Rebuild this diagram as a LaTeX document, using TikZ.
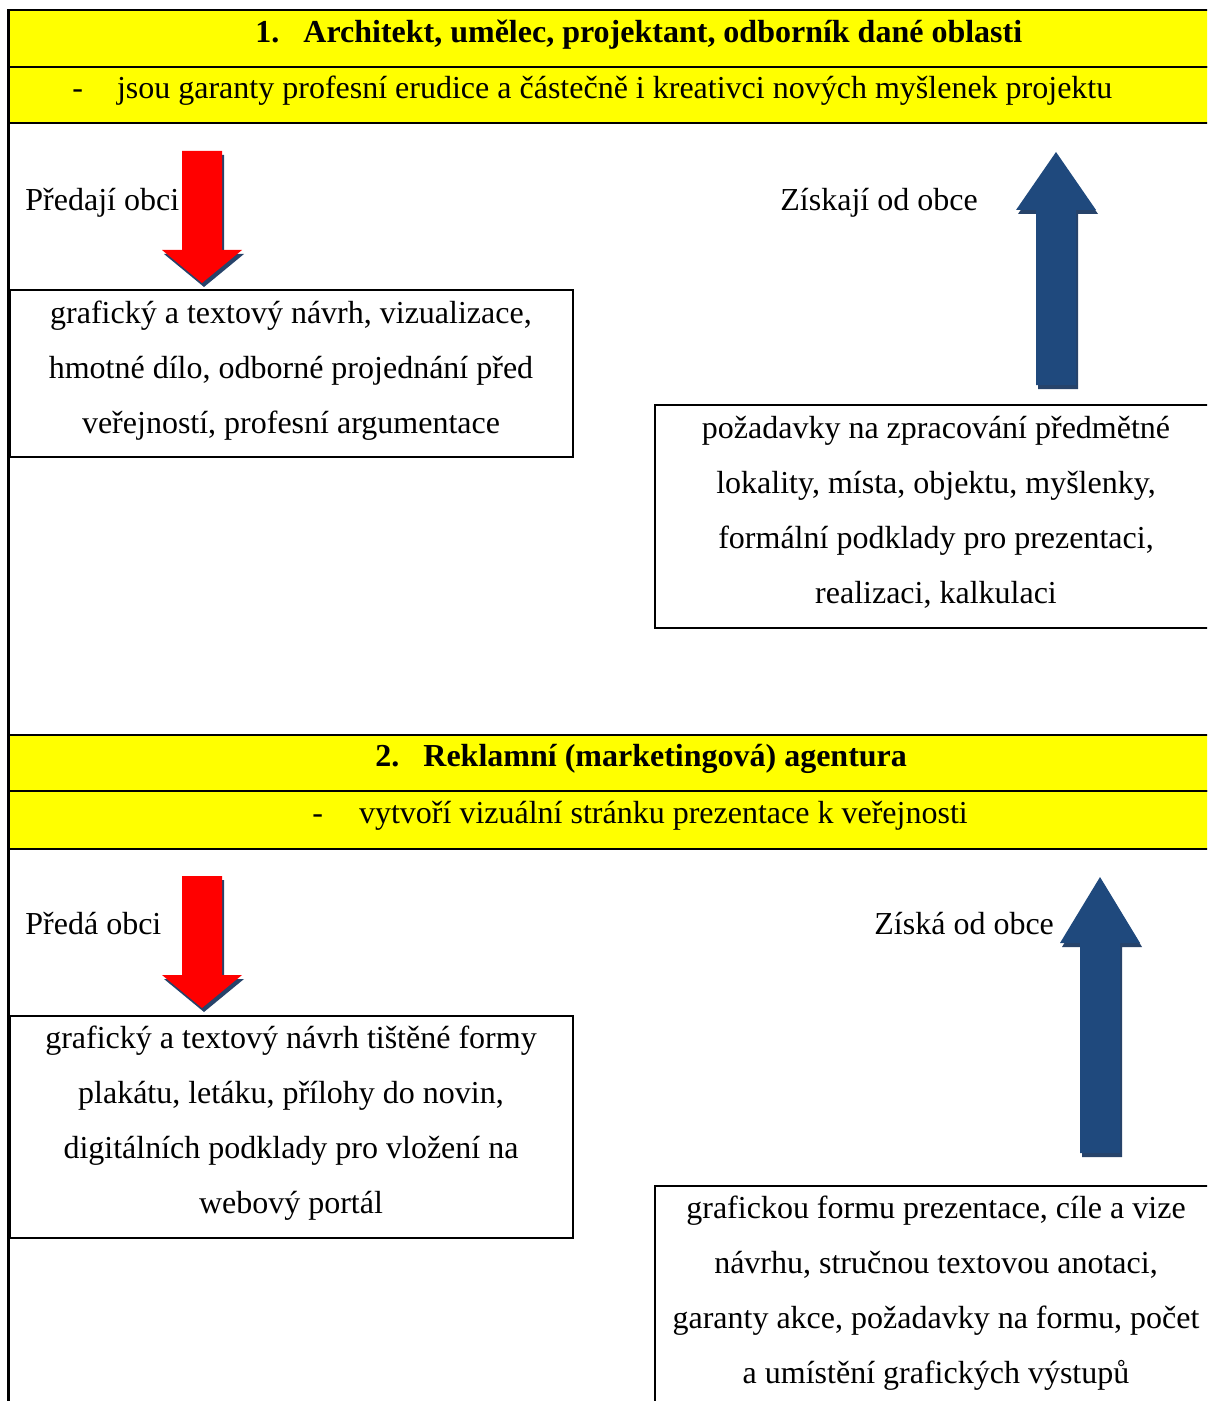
\documentclass[tikz,border=0pt]{standalone}
\usepackage{fontspec}
\setmainfont{Liberation Serif}
\usepackage{tikz}
\usetikzlibrary{calc}
\definecolor{bandYellow}{HTML}{FFFF00}
\definecolor{arrowRed}{HTML}{FF0000}
\definecolor{arrowBlue}{HTML}{1F497D}
\definecolor{arrowShadow}{HTML}{27436A}
\tikzstyle{band}     = [fill=bandYellow,draw=black,line width=1pt]
\tikzstyle{infobox}  = [draw=black,line width=1pt]
\tikzstyle{bandtext} = [anchor=base west,inner sep=0pt]
\tikzstyle{bandhead} = [anchor=base west,inner sep=0pt,font=\fontsize{16}{27.5}\selectfont\bfseries]
\tikzstyle{boxtext}  = [anchor=base,align=center,inner sep=0pt]
\tikzstyle{sidetext} = [anchor=base west,inner sep=0pt]

% block arrow: tip, direction (1 down, -1 up), length, head length, colour
\newcommand{\blockarrow}[5]{%
  \begin{scope}[shift={#1}]
    \fill[arrowShadow,shift={(2,4)},yscale=#2] (0,0) -- (40,-#4) -- (20,-#4) -- (20,-#3) -- (-20,-#3) -- (-20,-#4) -- (-40,-#4) -- cycle;
    \fill[#5,yscale=#2] (0,0) -- (40,-#4) -- (20,-#4) -- (20,-#3) -- (-20,-#3) -- (-20,-#4) -- (-40,-#4) -- cycle;
  \end{scope}}

\begin{document}
\begin{tikzpicture}[x=0.5pt,y=-0.5pt, every node/.style={font=\fontsize{16}{27.5}\selectfont}]
	\useasboundingbox (0,0) rectangle (1207,1401);
	\clip (0,0) rectangle (1207,1401);
	
	% part 1
	\draw[band] (8,10) rectangle (1217,67);
	\draw[band] (8,67) rectangle (1217,123);
	\node[bandhead] (head1) at (255,43) {1.\hspace{12pt}Architekt, umělec, projektant, odborník dané oblasti};
	\node[bandtext] (sub1) at (72,99) {-\hspace{17pt}jsou garanty profesní erudice a částečně i kreativci nových myšlenek projektu};
	
	\blockarrow{(202,283)}{1}{132}{33}{arrowRed}
	\blockarrow{(1056,152)}{-1}{233}{58}{arrowBlue}
	\node[sidetext] (give1) at (25,211) {Předají obci};
	\node[sidetext] (get1) at (780,211) {Získají od obce};
	
	% base anchor sits on the last line
	\draw[infobox] (10,290) rectangle (573,457);
	\node[boxtext] (givebox1) at (291,433) {grafický a textový návrh, vizualizace,\\hmotné dílo, odborné projednání před\\veřejností, profesní argumentace};
	\draw[infobox] (655,405) rectangle (1217,628);
	\node[boxtext] (getbox1) at (936,603) {požadavky na zpracování předmětné\\lokality, místa, objektu, myšlenky,\\formální podklady pro prezentaci,\\realizaci, kalkulaci};
	
	% part 2
	\draw[band] (8,735) rectangle (1217,791);
	\draw[band] (8,791) rectangle (1217,849);
	\node[bandhead] (head2) at (375,766) {2.\hspace{12pt}Reklamní (marketingová) agentura};
	\node[bandtext] (sub2) at (312,823) {-\hspace{18pt}vytvoří vizuální stránku prezentace k veřejnosti};
	
	\blockarrow{(202,1008)}{1}{132}{33}{arrowRed}
	\blockarrow{(1100,877)}{-1}{276}{66}{arrowBlue}
	\node[sidetext] (give2) at (25,934) {Předá obci};
	\node[sidetext] (get2) at (874,934) {Získá od obce};
	
	\draw[infobox] (10,1016) rectangle (573,1238);
	\node[boxtext] (givebox2) at (291,1213) {grafický a textový návrh tištěné formy\\plakátu, letáku, přílohy do novin,\\digitálních podklady pro vložení na\\webový portál};
	\draw[infobox] (655,1186) rectangle (1217,1420);
	\node[boxtext] (getbox2) at (936,1383) {grafickou formu prezentace, cíle a vize\\návrhu, stručnou textovou anotaci,\\garanty akce, požadavky na formu, počet\\a umístění grafických výstupů};
	
	% outer left edge
	\draw[line width=1.5pt] (8,10) -- (8,1401);
\end{tikzpicture}
\end{document}
